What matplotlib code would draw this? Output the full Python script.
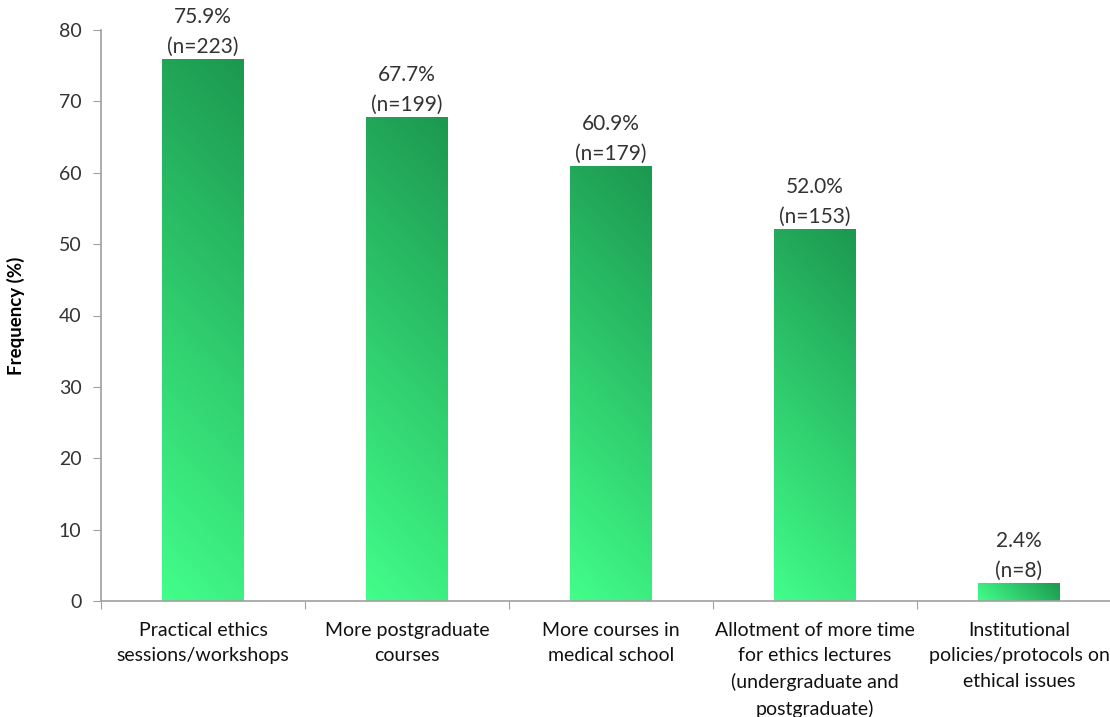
import numpy as np
import matplotlib
matplotlib.use("Agg")
import matplotlib.pyplot as plt
from matplotlib.colors import LinearSegmentedColormap

categories = [
    "Practical ethics\nsessions/workshops",
    "More postgraduate\ncourses",
    "More courses in\nmedical school",
    "Allotment of more time\nfor ethics lectures\n(undergraduate and\npostgraduate)",
    "Institutional\npolicies/protocols on\nethical issues",
]
percent = [75.9, 67.7, 60.9, 52.0, 2.4]
counts = [223, 199, 179, 153, 8]

plt.rcParams['font.family'] = ['Lato', 'DejaVu Sans']

fig = plt.figure(figsize=(11.1, 7.17), dpi=100)
ax = fig.add_axes([101 / 1110, 116 / 717, 1020 / 1110, 571 / 717])

cmap = LinearSegmentedColormap.from_list("grn", ["#42FE8A", "#1C9850"])
bar_w = 0.4
ax.set_xlim(0, len(categories))
ax.set_ylim(0, 80)

# pixel scale of the data units for the diagonal gradient
px_x = 1020 / len(categories)
px_y = 571 / 80
for i, v in enumerate(percent):
    x0 = i + 0.5 - bar_w / 2
    w_px = bar_w * px_x
    h_px = v * px_y
    u = np.linspace(0, 1, 60)
    vv = np.linspace(0, 1, 200)
    U, V = np.meshgrid(u, vv)
    t = (U * w_px + V * h_px) / (w_px + h_px)
    ax.imshow(t, cmap=cmap, vmin=0, vmax=1, origin="lower", aspect="auto",
              extent=[x0, x0 + bar_w, 0, v], interpolation="bilinear", zorder=2)
    ax.text(i + 0.5, v + 0.4, f"{v:.1f}%\n(n={counts[i]})", ha="center", va="bottom",
            fontsize=15, color="#333333", linespacing=1.6)

ax.set_xlim(0, len(categories))
ax.set_ylim(0, 80)
ax.set_yticks(np.arange(0, 81, 10))
ax.set_xticks(np.arange(0, len(categories) + 1))
ax.set_xticklabels([])
ax.set_xticks(np.arange(len(categories)) + 0.5, minor=True)
ax.set_xticklabels(categories, minor=True, fontsize=14, va="top", color="#111111",
                   linespacing=1.6)
ax.tick_params(axis="x", which="minor", length=0, pad=15)
ax.tick_params(axis="x", which="major", length=6, color="#A0A0A0", direction="out")
ax.tick_params(axis="y", length=6, color="#A0A0A0", labelsize=14, labelcolor="#333333", pad=8)

for s in ["top", "right"]:
    ax.spines[s].set_visible(False)
for s in ["left", "bottom"]:
    ax.spines[s].set_color("#A0A0A0")
    ax.spines[s].set_linewidth(1.2)

ax.set_ylabel("Frequency (%)", fontsize=13.5, fontweight="bold", labelpad=24)

fig.savefig("out.png", dpi=100)
